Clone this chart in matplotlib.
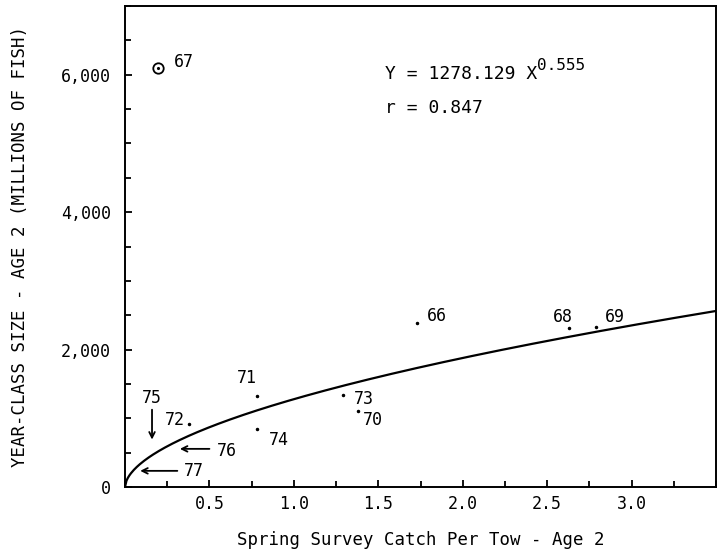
import numpy as np
import matplotlib
matplotlib.use("Agg")
import matplotlib.pyplot as plt
from matplotlib.ticker import MultipleLocator, FuncFormatter

plt.rcParams['font.family'] = ['DejaVu Sans Mono']

# year-class points (catch per tow, year-class size in millions)
years = ['67', '66', '68', '69', '71', '74', '73', '70', '72']
catch = [0.195, 1.73, 2.63, 2.79, 0.78, 0.78, 1.29, 1.38, 0.38]
yclass = [6100, 2380, 2320, 2335, 1330, 850, 1340, 1110, 920]

# label offsets in pixels (dx, dy) and alignment
lab_off = [(16, 6), (10, 7), (-6, 11), (9, 10), (-10, 18), (12, -11), (11, -4), (5, -9), (-4, 4)]
lab_ha = ['left', 'left', 'center', 'left', 'center', 'left', 'left', 'left', 'right']

# years shown with arrows (tip and tail)
arrow_years = ['75', '76', '77']
arrow_tip_x = [0.16, 0.325, 0.09]
arrow_tip_y = [690, 555, 235]
arrow_tail_x = [0.16, 0.50, 0.31]
arrow_tail_y = [1125, 555, 235]
arrow_lab_off = [(0, 12), (7, -2), (7, 0)]
arrow_lab_ha = ['center', 'left', 'left']

# fitted curve Y = a X^b
a_coef = 1278.129
b_coef = 0.555
r_val = 0.847

fig = plt.figure(figsize=(7.17, 5.51), dpi=100)
ax = fig.add_axes([125 / 717, 1 - 487 / 551, 591 / 717, 481 / 551])

xs = np.linspace(0, 3.5, 400)
ax.plot(xs, a_coef * xs ** b_coef, color='black', lw=1.6)

# ordinary points
ax.plot(catch[1:], yclass[1:], 'k.', ms=3)
# 1967 circled point
ax.plot(catch[0], yclass[0], 'o', mfc='none', mec='black', ms=7.5, mew=1.3)
ax.plot(catch[0], yclass[0], 'k.', ms=2.5)

for i, yr in enumerate(years):
    ax.annotate(yr, (catch[i], yclass[i]), xytext=lab_off[i], textcoords='offset pixels',
                ha=lab_ha[i], va='center', fontsize=12)

for i, yr in enumerate(arrow_years):
    ax.annotate('', xy=(arrow_tip_x[i], arrow_tip_y[i]),
                xytext=(arrow_tail_x[i], arrow_tail_y[i]),
                arrowprops=dict(arrowstyle='->', color='black', lw=1.3,
                                shrinkA=0, shrinkB=0, mutation_scale=10))
    ax.annotate(yr, (arrow_tail_x[i], arrow_tail_y[i]), xytext=arrow_lab_off[i],
                textcoords='offset pixels', ha=arrow_lab_ha[i], va='center', fontsize=12)

# equation
eq = ax.text(0.44, 0.859, 'Y = 1278.129 X', transform=ax.transAxes, fontsize=13, va='center')
ax.annotate('0.555', xy=(1, 1), xycoords=eq, xytext=(0, 7), textcoords='offset pixels',
            ha='left', va='top', fontsize=11.5)
ax.text(0.44, 0.788, f'r = {r_val}', transform=ax.transAxes, fontsize=13, va='center')

ax.set_xlim(0, 3.5)
ax.set_ylim(0, 7000)
ax.set_xticks([0.5, 1.0, 1.5, 2.0, 2.5, 3.0])
ax.xaxis.set_minor_locator(MultipleLocator(0.25))
ax.set_yticks([0, 2000, 4000, 6000])
ax.yaxis.set_minor_locator(MultipleLocator(500))
ax.yaxis.set_major_formatter(FuncFormatter(lambda v, p: f'{int(v):,}'))
ax.tick_params(which='both', direction='in', labelsize=12, width=1.3)
ax.tick_params(which='major', length=5)
ax.tick_params(which='minor', length=4)
ax.tick_params(axis='y', pad=10)
ax.tick_params(axis='x', pad=6)

for s in ax.spines.values():
    s.set_linewidth(1.4)

ax.set_xlabel('Spring Survey Catch Per Tow - Age 2', fontsize=12.5)
ax.xaxis.set_label_coords(0.5, -0.092)
ax.set_ylabel('YEAR-CLASS SIZE - AGE 2 (MILLIONS OF FISH)', fontsize=12.5)
ax.yaxis.set_label_coords(-0.162, 0.5)

fig.savefig('out.png', dpi=100)
